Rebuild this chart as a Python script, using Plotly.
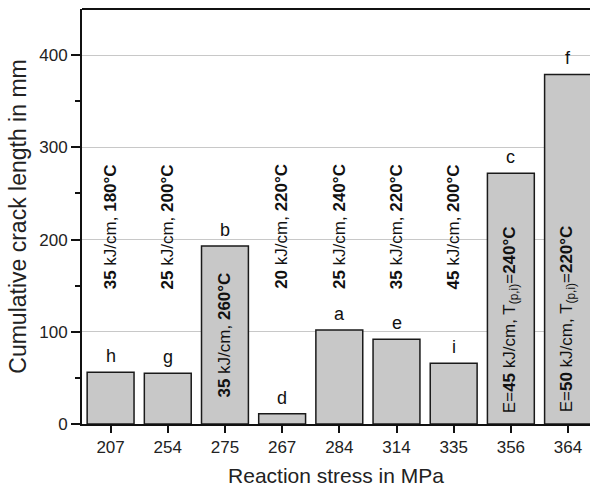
import plotly.graph_objects as go

stress = ["207", "254", "275", "267", "284", "314", "335", "356", "364"]
crack = [56, 55, 193, 11, 102, 92, 66, 272, 379]
letters = ["h", "g", "b", "d", "a", "e", "i", "c", "f"]
energy = ["35", "25", "35", "20", "25", "35", "45", "45", "50"]
temp = ["180", "200", "260", "220", "240", "220", "200", "240", "220"]
inside = [False, False, True, False, False, False, False, True, True]
prefixed = [False, False, False, False, False, False, False, True, True]

FONT = "Liberation Sans, Arial, sans-serif"

fig = go.Figure()
fig.add_trace(go.Bar(
    x=stress, y=crack, width=0.82,
    marker=dict(color="#c8c8c8", line=dict(color="#1a1a1a", width=1.5)),
    hoverinfo="skip",
))

annotations = []
for i, (v, l, e, t, ins, pre) in enumerate(zip(crack, letters, energy, temp, inside, prefixed)):
    annotations.append(dict(x=i, y=v, xref="x", yref="y", text=l, showarrow=False,
                            yanchor="bottom", yshift=4,
                            font=dict(size=18, color="#111", family=FONT)))
    if pre:
        txt = f"E=<b>{e}</b> kJ/cm, T<sub>(p,i)</sub>=<b>{t}°C</b>"
        ypos = 10
    else:
        txt = f"<b>{e}</b> kJ/cm, <b>{t}°C</b>"
        ypos = 27 if ins else 144
    annotations.append(dict(x=i, y=ypos, xref="x", yref="y", text=txt, showarrow=False,
                            textangle=-90, yanchor="bottom", xanchor="center",
                            font=dict(size=17, color="#111", family=FONT)))

fig.update_layout(
    width=590, height=490,
    margin=dict(l=82, r=0, t=9, b=66),
    paper_bgcolor="white", plot_bgcolor="white",
    showlegend=False,
    font=dict(family=FONT, color="#222"),
    annotations=annotations,
    xaxis=dict(type="category", range=[-0.5, 8.384],
               showline=True, linecolor="#111", linewidth=2, mirror=False,
               ticks="outside", ticklen=7, tickwidth=1.5, tickcolor="#111",
               tickfont=dict(size=17, color="#222"),
               title=dict(text="Reaction stress in MPa", font=dict(size=21, color="#222"), standoff=12)),
    yaxis=dict(range=[0, 450], tickvals=[0, 100, 200, 300, 400],
               showline=True, linecolor="#111", linewidth=2,
               ticks="outside", ticklen=9, tickwidth=1.5, tickcolor="#111",
               showgrid=True, gridcolor="#c8c8c8", gridwidth=1, zeroline=False,
               minor=dict(tickvals=[50, 150, 250, 350], ticks="outside", ticklen=5,
                          tickwidth=1.5, tickcolor="#111", showgrid=False),
               tickfont=dict(size=17, color="#222"),
               title=dict(text="Cumulative crack length in mm", font=dict(size=23, color="#222"), standoff=6)),
    shapes=[dict(type="line", xref="paper", yref="paper", x0=0, x1=1, y0=1, y1=1,
                 line=dict(color="#111", width=2))],
)

fig.write_html("out.html")
